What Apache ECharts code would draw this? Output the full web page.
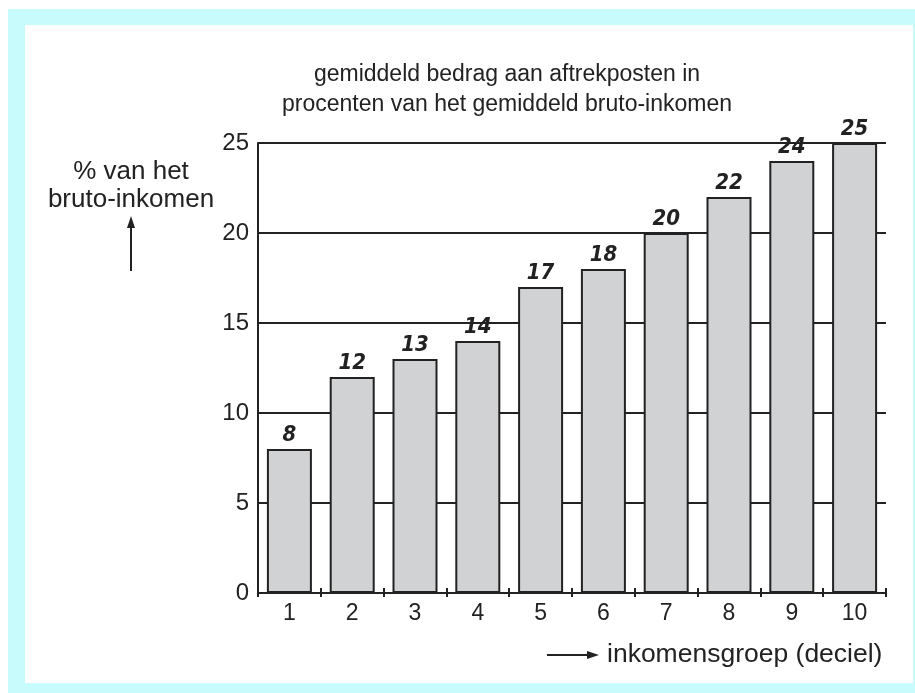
<!DOCTYPE html>
<html><head><meta charset="utf-8">
<script src="https://cdn.jsdelivr.net/npm/echarts@6/dist/echarts.min.js"></script>
<style>html,body{margin:0;padding:0;background:#fff}#c{width:915px;height:693px}</style>
</head><body><div id="c"></div>
<script>
var categories = ['1','2','3','4','5','6','7','8','9','10'];
var values = [8, 12, 13, 14, 17, 18, 20, 22, 24, 25];
var yTicks = [0, 5, 10, 15, 20, 25];
var titleLines = ['gemiddeld bedrag aan aftrekposten in', 'procenten van het gemiddeld bruto-inkomen'];
var yName = ['% van het', 'bruto-inkomen'];
var xName = 'inkomensgroep (deciel)';

var chart = echarts.init(document.getElementById('c'), null, {renderer: 'canvas'});
var txt = '#222';
var font = '"Liberation Sans", Arial, sans-serif';
function T(text, x, y, size, align, vAlign, lh) {
  return {type: 'text', z: 5, silent: true, style: {text: text, x: x, y: y, align: align, verticalAlign: vAlign,
    fontSize: size, fontFamily: font, fill: txt, lineHeight: lh || size}};
}
chart.setOption({
  backgroundColor: '#fff',
  animation: false,
  graphic: [
    {type: 'rect', z: -10, silent: true, shape: {x: 8, y: 9, width: 907, height: 684}, style: {fill: '#c8fcfc'}},
    {type: 'rect', z: -9, silent: true, shape: {x: 25, y: 25, width: 888, height: 658}, style: {fill: '#fff'}},
    T(titleLines.join('\n'), 507, 90, 23, 'center', 'middle', 30),
    T(yName.join('\n'), 131, 186, 26, 'center', 'middle', 28),
    {type: 'line', z: 5, shape: {x1: 131, y1: 271, x2: 131, y2: 225}, style: {stroke: txt, lineWidth: 2}},
    {type: 'polygon', z: 5, shape: {points: [[131, 216], [127, 228], [135, 228]]}, style: {fill: txt}},
    {type: 'line', z: 5, shape: {x1: 547, y1: 655, x2: 590, y2: 655}, style: {stroke: txt, lineWidth: 2}},
    {type: 'polygon', z: 5, shape: {points: [[599, 655], [587, 651], [587, 659]]}, style: {fill: txt}},
    T(xName, 607, 655, 26.5, 'left', 'middle')
  ],
  grid: {left: 258, right: 29, top: 143, bottom: 100, containLabel: false},
  xAxis: [{
    type: 'category', data: categories, boundaryGap: true,
    axisLine: {lineStyle: {color: txt, width: 2}},
    axisTick: {show: true, length: 4, lineStyle: {color: txt, width: 2}},
    axisLabel: {color: txt, fontSize: 23, fontFamily: font, margin: 9}
  }, {
    type: 'category', data: categories, boundaryGap: true, position: 'bottom',
    axisLine: {show: false},
    axisTick: {show: true, inside: true, length: 5, lineStyle: {color: txt, width: 2}},
    axisLabel: {show: false}
  }],
  yAxis: {
    type: 'value', min: yTicks[0], max: yTicks[yTicks.length - 1], interval: 5,
    axisLine: {show: true, lineStyle: {color: txt, width: 2}},
    axisTick: {show: false},
    axisLabel: {color: txt, fontSize: 24, fontFamily: font, margin: 9},
    splitLine: {show: true, lineStyle: {color: txt, width: 2}}
  },
  series: [{
    type: 'bar', data: values, barWidth: 45, xAxisIndex: 0,
    itemStyle: {color: '#d0d2d4', borderColor: txt, borderWidth: 2},
    label: {show: true, position: 'top', distance: 3, color: txt, fontStyle: 'italic', fontWeight: 'bold',
      fontFamily: '"Liberation Sans Narrow", "DejaVu Sans Condensed", sans-serif', fontSize: 22}
  }]
});
</script></body></html>
